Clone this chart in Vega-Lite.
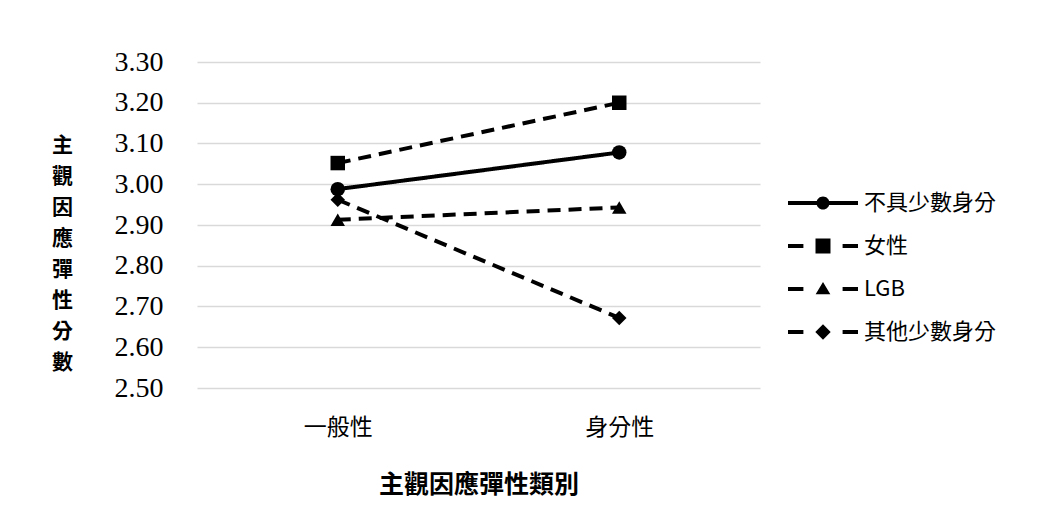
{
  "$schema": "https://vega.github.io/schema/vega-lite/v6.json",
  "width": 563,
  "height": 326,
  "autosize": {"type": "none"},
  "padding": {"left": 197, "top": 62, "right": 289, "bottom": 128},
  "background": "white",
  "config": {
    "view": {"stroke": null},
    "font": "Noto Sans CJK TC"
  },
  "data": {
    "values": [
      {"type": "一般性", "group": "不具少數身分", "score": 2.988},
      {"type": "身分性", "group": "不具少數身分", "score": 3.078},
      {"type": "一般性", "group": "女性", "score": 3.052},
      {"type": "身分性", "group": "女性", "score": 3.200},
      {"type": "一般性", "group": "LGB", "score": 2.913},
      {"type": "身分性", "group": "LGB", "score": 2.943},
      {"type": "一般性", "group": "其他少數身分", "score": 2.962},
      {"type": "身分性", "group": "其他少數身分", "score": 2.672}
    ]
  },
  "encoding": {
    "x": {
      "field": "type", "type": "nominal",
      "scale": {"type": "point", "domain": ["一般性", "身分性"], "padding": 0.5},
      "axis": {
        "title": "主觀因應彈性類別",
        "titleFont": "Noto Sans CJK TC", "titleFontSize": 25, "titleFontWeight": "bold", "titleColor": "black",
        "titlePadding": 33,
        "labelAngle": 0, "labelFont": "Noto Sans CJK TC", "labelFontSize": 23, "labelColor": "black",
        "labelPadding": 28, "domain": false, "ticks": false, "grid": false
      }
    },
    "y": {
      "field": "score", "type": "quantitative",
      "scale": {"domain": [2.5, 3.3], "nice": false, "zero": false},
      "axis": {
        "values": [2.5, 2.6, 2.7, 2.8, 2.9, 3.0, 3.1, 3.2, 3.3],
        "format": ".2f",
        "title": ["主", "觀", "因", "應", "彈", "性", "分", "數"],
        "titleAngle": 0, "titleFont": "Noto Sans CJK TC", "titleFontSize": 21, "titleFontWeight": "bold",
        "titleColor": "black", "titleLineHeight": 31, "titleAlign": "center", "titleBaseline": "middle",
        "titleX": -135, "titleY": 83,
        "labelFont": "Liberation Serif", "labelFontSize": 28, "labelColor": "black", "labelPadding": 34,
        "domain": false, "ticks": false,
        "grid": true, "gridColor": "#d9d9d9", "gridWidth": 1.5
      }
    }
  },
  "resolve": {"scale": {"shape": "independent"}},
  "layer": [
    {
      "mark": {"type": "line", "color": "black", "strokeWidth": 4},
      "encoding": {
        "strokeDash": {
          "field": "group", "type": "nominal",
          "scale": {"domain": ["不具少數身分", "女性", "LGB", "其他少數身分"], "range": [[1, 0], [13, 8], [13, 8], [13, 8]]},
          "legend": null
        }
      }
    },
    {
      "mark": {"type": "point", "filled": true, "color": "black", "opacity": 1, "size": 210},
      "encoding": {
        "shape": {
          "field": "group", "type": "nominal",
          "scale": {"domain": ["不具少數身分", "女性", "LGB", "其他少數身分"], "range": ["circle", "square", "triangle-up", "diamond"]},
          "legend": null
        }
      }
    },
    {
      "mark": {"type": "point", "filled": true, "color": "black", "opacity": 0, "size": 196},
      "encoding": {
        "shape": {
          "field": "group", "type": "nominal",
          "scale": {
            "domain": ["不具少數身分", "女性", "LGB", "其他少數身分"],
            "range": [
              "M-5,-0.29H5V0.29H-5Z M0.93,0A0.93,0.93,0,1,1,-0.93,0A0.93,0.93,0,1,1,0.93,0Z",
              "M-5,-0.29H-2.8V0.29H-5Z M-1.07,-1.07H1.07V1.07H-1.07Z M2.8,-0.29H5V0.29H2.8Z",
              "M-5,-0.29H-2.8V0.29H-5Z M0,-1L1.05,0.75H-1.05Z M2.8,-0.29H5V0.29H2.8Z",
              "M-5,-0.29H-2.8V0.29H-5Z M0,-1.1L1.1,0L0,1.1L-1.1,0Z M2.8,-0.29H5V0.29H2.8Z"
            ]
          },
          "legend": {
            "title": null, "orient": "none", "legendX": 615, "legendY": 130,
            "padding": 0, "symbolSize": 196, "symbolOpacity": 1,
            "symbolFillColor": "black", "symbolStrokeColor": "black", "symbolStrokeWidth": 0,
            "labelFont": "Noto Sans CJK TC", "labelFontSize": 22, "labelColor": "black",
            "labelOffset": 30, "rowPadding": 21
          }
        }
      }
    }
  ]
}
